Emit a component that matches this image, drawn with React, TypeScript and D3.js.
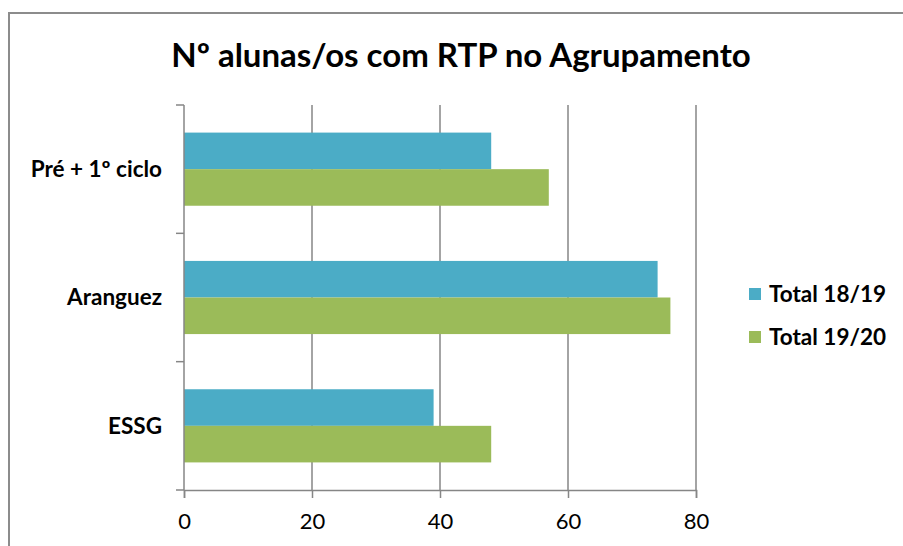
import { useEffect, useRef } from "react";
import * as d3 from "d3";

const categories = ["Pré + 1º ciclo", "Aranguez", "ESSG"];
const seriesNames = ["Total 18/19", "Total 19/20"];
const total1819 = [48, 74, 39];
const total1920 = [57, 76, 48];
const xTicks = [0, 20, 40, 60, 80];
const colors = ["#4BACC6", "#9BBB59"];

const W = 903;
const H = 546;
const FONT = "Lato, 'Open Sans', sans-serif";

export default function App() {
  const svgRef = useRef<SVGSVGElement>(null);

  useEffect(() => {
    document.body.style.margin = "0";
    if (!svgRef.current) return;
    const svg = d3.select(svgRef.current);
    svg.selectAll("*").remove();

    svg.append("rect").attr("width", W).attr("height", H).attr("fill", "#fff");

    // chart frame (cropped at right and bottom)
    svg
      .append("rect")
      .attr("x", 9)
      .attr("y", 13)
      .attr("width", W + 10)
      .attr("height", H + 10)
      .attr("fill", "none")
      .attr("stroke", "#8c8c8c")
      .attr("stroke-width", 2);

    svg
      .append("text")
      .attr("x", 461)
      .attr("y", 67)
      .attr("text-anchor", "middle")
      .attr("font-family", FONT)
      .attr("font-weight", "bold")
      .attr("font-size", 33)
      .attr("fill", "#000")
      .text("Nº alunas/os com RTP no Agrupamento");

    const x = d3.scaleLinear().domain([0, 80]).range([184, 696]);
    const y = d3
      .scaleBand<string>()
      .domain(categories)
      .range([105, 490])
      .paddingInner(0.43)
      .paddingOuter(0.215);
    const ySub = d3
      .scaleBand<number>()
      .domain([0, 1])
      .range([0, y.bandwidth()]);

    const grey = "#868686";

    // gridlines
    svg
      .append("g")
      .selectAll("line")
      .data(xTicks.slice(1))
      .join("line")
      .attr("x1", (d) => x(d))
      .attr("x2", (d) => x(d))
      .attr("y1", 105)
      .attr("y2", 490)
      .attr("stroke", grey)
      .attr("stroke-width", 1.5);

    // bars
    const series = [total1819, total1920];
    series.forEach((vals, si) => {
      svg
        .append("g")
        .selectAll("rect")
        .data(vals)
        .join("rect")
        .attr("x", x(0))
        .attr("y", (_, i) => (y(categories[i]) ?? 0) + (ySub(si) ?? 0))
        .attr("width", (d) => x(d) - x(0))
        .attr("height", ySub.bandwidth())
        .attr("fill", colors[si]);
    });

    // x axis
    const xAxis = svg
      .append("g")
      .attr("transform", "translate(0,490)")
      .call(d3.axisBottom(x).tickValues(xTicks).tickSize(8).tickPadding(15));
    xAxis.select(".domain").attr("stroke", grey).attr("stroke-width", 1.5);
    xAxis.selectAll(".tick line").attr("stroke", grey).attr("stroke-width", 1.5);
    xAxis
      .selectAll(".tick text")
      .attr("font-family", FONT)
      .attr("font-size", 22)
      .attr("fill", "#000");

    // y axis
    const bounds = [...categories.map((c) => (y(c) ?? 0) - y.step() * 0.215), 490];
    svg
      .append("line")
      .attr("x1", 184)
      .attr("x2", 184)
      .attr("y1", 105)
      .attr("y2", 490)
      .attr("stroke", grey)
      .attr("stroke-width", 1.5);
    svg
      .append("g")
      .selectAll("line")
      .data(bounds)
      .join("line")
      .attr("x1", 176)
      .attr("x2", 184)
      .attr("y1", (d) => d)
      .attr("y2", (d) => d)
      .attr("stroke", grey)
      .attr("stroke-width", 1.5);
    svg
      .append("g")
      .selectAll("text")
      .data(categories)
      .join("text")
      .attr("x", 162)
      .attr("y", (d) => (y(d) ?? 0) + y.bandwidth() / 2)
      .attr("dy", "0.35em")
      .attr("text-anchor", "end")
      .attr("font-family", FONT)
      .attr("font-weight", "bold")
      .attr("font-size", 22.5)
      .attr("fill", "#000")
      .text((d) => d);

    // legend
    const lg = svg
      .append("g")
      .selectAll("g")
      .data(seriesNames)
      .join("g")
      .attr("transform", (_, i) => `translate(749,${288 + i * 43})`);
    lg.append("rect")
      .attr("width", 12)
      .attr("height", 12)
      .attr("fill", (_, i) => colors[i]);
    lg.append("text")
      .attr("x", 20)
      .attr("y", 6)
      .attr("dy", "0.35em")
      .attr("font-family", FONT)
      .attr("font-weight", "bold")
      .attr("font-size", 22.5)
      .attr("fill", "#000")
      .text((d) => d);
  }, []);

  return <svg ref={svgRef} width={W} height={H} style={{ display: "block" }} />;
}
